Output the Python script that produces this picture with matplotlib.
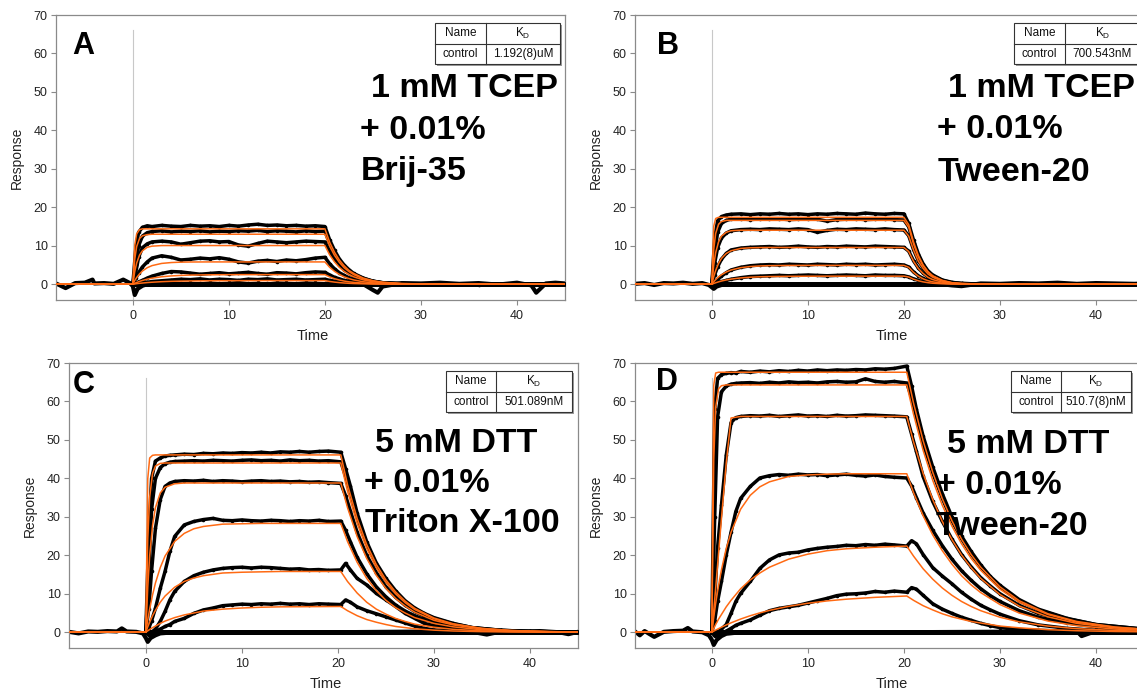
import matplotlib
matplotlib.use('Agg')
import matplotlib.pyplot as plt
from matplotlib.patches import Rectangle
from matplotlib.lines import Line2D

plt.rcParams['font.family'] = ['Liberation Sans', 'DejaVu Sans']
plt.rcParams['mathtext.fontset'] = 'custom'
plt.rcParams['mathtext.rm'] = 'Liberation Sans'
plt.rcParams['mathtext.it'] = 'Liberation Sans:italic'

# ---------------- time grids ----------------
fit_t_ab = [-8, 0, 0.2, 0.4, 0.7, 1, 1.5, 2, 3, 4, 5, 6, 8, 10, 14,
            20, 20.5, 21, 21.5, 22, 22.5, 23, 24, 25, 26, 28, 32, 45]
fit_t_cd = [-8, 0, 0.2, 0.4, 0.7, 1, 1.5, 2, 3, 4, 5, 6, 8, 10, 12, 14, 17,
            20.3, 21, 22, 23, 24, 25, 26, 27, 28, 30, 32, 35, 38, 42, 45]
data_t_ab = [0, 0.3, 0.6, 1, 1.5, 2, 3, 4, 5, 6, 7, 8, 9, 10, 11, 12, 13, 14, 15, 16, 17, 18, 19, 20,
             20.5, 21, 21.5, 22, 22.5, 23, 24, 25, 26, 28, 30, 33, 36, 40, 45]
data_t_cd = [0, 0.3, 0.6, 1, 1.5, 2, 2.5, 3, 4, 5, 6, 7, 8, 9, 10, 11, 12, 13, 14, 15, 16, 17, 18, 19, 20.3,
             20.8, 21.3, 22, 23, 24, 25, 26, 27, 28, 29, 30, 32, 34, 37, 40, 45]
blank_t = [0, 45]
blank_y = [0, 0]

# ---------------- panel A ----------------
a_fits = [
    [0, 0, 10.1, 13.1, 14.2, 14.4, 14.4, 14.4, 14.4, 14.4, 14.4, 14.4, 14.4, 14.4, 14.4,
     14.4, 10.9, 8.3, 6.3, 4.8, 3.6, 2.8, 1.6, 0.92, 0.53, 0.17, 0.01, 0],
    [0, 0, 6.5, 9.8, 11.9, 12.6, 12.9, 13.0, 13.0, 13.0, 13.0, 13.0, 13.0, 13.0, 13.0,
     13.0, 9.9, 7.5, 5.7, 4.3, 3.3, 2.5, 1.4, 0.83, 0.48, 0.16, 0.01, 0],
    [0, 0, 3.3, 5.5, 7.6, 8.7, 9.6, 9.9, 10.05, 10.06, 10.06, 10.06, 10.06, 10.06, 10.06,
     10.06, 7.6, 5.8, 4.4, 3.35, 2.55, 1.93, 1.12, 0.64, 0.37, 0.12, 0.01, 0],
    [0, 0, 0.96, 1.75, 2.7, 3.44, 4.3, 4.84, 5.41, 5.64, 5.74, 5.78, 5.8, 5.8, 5.8,
     5.8, 4.4, 3.35, 2.55, 1.93, 1.47, 1.11, 0.64, 0.37, 0.21, 0.07, 0.01, 0],
    [0, 0, 0.24, 0.45, 0.74, 0.98, 1.32, 1.58, 1.94, 2.16, 2.3, 2.38, 2.45, 2.49, 2.5,
     2.5, 1.9, 1.44, 1.1, 0.83, 0.63, 0.48, 0.28, 0.16, 0.09, 0.03, 0, 0],
    [0, 0, 0.07, 0.15, 0.24, 0.31, 0.43, 0.52, 0.66, 0.76, 0.82, 0.86, 0.91, 0.93, 0.95,
     0.95, 0.72, 0.55, 0.42, 0.32, 0.24, 0.18, 0.11, 0.06, 0.04, 0.01, 0, 0],
]
a_data = [
    [0, 9, 13.5, 14.8, 15.2, 15.0, 15.3, 15.1, 15.0, 15.3, 15.1, 15.2, 15.0, 15.3, 15.1, 15.4, 15.6, 15.3, 15.4, 15.2, 15.3, 15.1, 15.2, 15.0,
     11.5, 8.8, 6.6, 5.0, 3.8, 2.8, 1.6, 0.8, 0.4, 0.2, 0, 0.1, -0.1, 0.1, 0],
    [0, 5, 10, 12.5, 13.4, 13.7, 13.9, 13.6, 13.8, 13.7, 13.9, 13.6, 13.8, 13.7, 13.9, 13.8, 14.0, 13.7, 13.9, 13.8, 13.6, 13.9, 13.7, 13.8,
     10.5, 8.0, 6.1, 4.6, 3.5, 2.6, 1.5, 0.8, 0.4, 0.15, 0, 0, 0, 0, 0],
    [0, 3, 7, 9.5, 10.5, 11.0, 11.2, 11.0, 10.4, 10.8, 11.2, 11.3, 11.0, 11.1, 10.2, 9.9, 10.6, 11.2, 11.0, 10.8, 11.0, 11.2, 11.1, 11.0,
     8.6, 6.6, 5.0, 3.8, 2.9, 2.2, 1.2, 0.7, 0.35, 0.1, 0, 0, 0, 0, 0],
    [0, 1.5, 3, 4.5, 5.8, 6.8, 7.4, 7.0, 6.3, 6.5, 6.8, 6.6, 6.9, 6.5, 5.8, 5.5, 6.0, 6.2, 5.9, 6.3, 6.1, 6.4, 6.8, 7.0,
     5.3, 4.0, 3.0, 2.3, 1.7, 1.3, 0.7, 0.4, 0.2, 0, 0, 0, 0, 0, 0],
    [0, 0.2, 0.6, 1.0, 1.6, 2.1, 2.8, 3.3, 3.2, 2.9, 2.6, 2.8, 3.0, 2.7, 2.9, 3.1, 2.8, 2.6, 3.0, 2.9, 2.7, 3.0, 3.2, 3.1,
     2.4, 1.8, 1.4, 1.0, 0.8, 0.6, 0.3, 0.15, 0, 0, 0, 0, 0, 0, 0],
    [0, 0, 0.1, 0.3, 0.5, 0.7, 0.9, 1.1, 1.3, 1.2, 1.4, 1.1, 1.3, 1.2, 1.0, 1.3, 1.2, 1.4, 1.1, 1.2, 1.3, 1.1, 1.2, 1.3,
     1.0, 0.8, 0.6, 0.45, 0.35, 0.25, 0.1, 0, 0, 0, 0, 0, 0, 0, 0],
]
a_buf_t = [-8, -7, -6, -5, -4.2, -4, -3, -2, -1, -0.3, 0, 0.2, 0.5, 1, 1.5, 3, 10, 20, 24, 25, 25.5, 26,
           28, 30, 32, 34, 36, 38, 40, 41.5, 42, 43, 44, 45]
a_buf_y = [0.2, -1.0, 0.3, 0.4, 1.2, 0.2, 0.3, 0.1, 1.2, 0.3, -0.5, -2.8, -1.2, -0.4, 0, 0, 0, 0, 0, -1.5, -2.2, -0.6,
           0.3, 0.2, 0.4, 0.1, 0.3, -0.1, 0.4, -0.3, -2.2, 0.2, 0.4, 0.2]

# ---------------- panel B ----------------
b_fits = [
    [0, 0, 15.1, 17.1, 17.4, 17.4, 17.4, 17.4, 17.4, 17.4, 17.4, 17.4, 17.4, 17.4, 17.4,
     17.4, 15.5, 11.0, 7.5, 5.0, 3.3, 2.2, 1.0, 0.4, 0.19, 0.05, 0, 0],
    [0, 0, 9.1, 13.2, 15.6, 16.3, 16.6, 16.6, 16.6, 16.6, 16.6, 16.6, 16.6, 16.6, 16.6,
     16.6, 14.8, 10.5, 7.1, 4.8, 3.2, 2.1, 0.95, 0.38, 0.18, 0.05, 0, 0],
    [0, 0, 5.0, 8.2, 11.0, 12.5, 13.5, 13.9, 14.05, 14.05, 14.05, 14.05, 14.05, 14.05, 14.05,
     14.05, 12.5, 8.9, 6.0, 4.1, 2.7, 1.8, 0.8, 0.32, 0.15, 0.04, 0, 0],
    [0, 0, 2.0, 3.6, 5.4, 6.7, 8.0, 8.7, 9.3, 9.47, 9.53, 9.55, 9.55, 9.55, 9.55,
     9.55, 8.5, 6.0, 4.1, 2.8, 1.8, 1.2, 0.54, 0.22, 0.1, 0.03, 0, 0],
    [0, 0, 0.64, 1.2, 1.9, 2.46, 3.18, 3.69, 4.3, 4.6, 4.75, 4.83, 4.88, 4.9, 4.9,
     4.9, 4.4, 3.1, 2.1, 1.4, 0.93, 0.62, 0.28, 0.11, 0.05, 0.01, 0, 0],
    [0, 0, 0.2, 0.38, 0.62, 0.83, 1.11, 1.33, 1.63, 1.82, 1.93, 2.0, 2.06, 2.09, 2.1,
     2.1, 1.87, 1.32, 0.9, 0.61, 0.4, 0.26, 0.12, 0.05, 0.02, 0, 0, 0],
]
b_data = [
    [0, 12, 16.5, 17.6, 18.0, 18.2, 18.3, 18.1, 18.3, 18.2, 18.4, 18.2, 18.3, 18.1, 18.3, 18.2, 18.4, 18.3, 18.2, 18.5, 18.3, 18.2, 18.4, 18.3,
     15.8, 11.5, 7.9, 5.3, 3.5, 2.4, 1.1, 0.5, 0.2, 0.05, 0, 0, 0, 0, 0],
    [0, 8, 13.5, 15.8, 16.6, 16.9, 17.0, 16.8, 17.0, 16.9, 17.0, 16.8, 16.9, 17.0, 16.9, 16.4, 16.8, 16.9, 17.0, 16.8, 16.9, 17.0, 16.8, 16.7,
     14.9, 10.7, 7.3, 4.9, 3.3, 2.2, 1.0, 0.4, 0.2, 0.05, 0, 0, 0, 0, 0],
    [0, 5.5, 9.5, 12, 13.3, 13.9, 14.2, 14.3, 14.2, 14.4, 14.3, 14.2, 14.4, 14.2, 13.5, 14.0, 14.3, 14.2, 14.4, 14.3, 14.2, 14.4, 14.2, 14.1,
     12.6, 9.0, 6.1, 4.2, 2.8, 1.9, 0.85, 0.35, 0.15, 0.05, 0, 0, 0, 0, 0],
    [0, 2.5, 4.5, 6.5, 8.0, 8.9, 9.4, 9.6, 9.7, 9.8, 9.6, 9.7, 9.9, 9.7, 9.6, 9.8, 9.7, 9.9, 9.8, 9.7, 9.9, 9.8, 9.7, 9.6,
     8.6, 6.1, 4.2, 2.9, 1.9, 1.3, 0.6, 0.25, 0.1, 0, 0, 0, 0, 0, 0],
    [0, 0.6, 1.3, 2.1, 3.0, 3.7, 4.4, 4.8, 5.0, 5.1, 5.0, 5.2, 5.1, 5.0, 5.2, 5.1, 5.0, 5.2, 5.1, 5.2, 5.0, 5.1, 5.2, 5.0,
     4.5, 3.2, 2.2, 1.5, 1.0, 0.65, 0.3, 0.12, 0.05, 0, 0, 0, 0, 0, 0],
    [0, 0.2, 0.4, 0.7, 1.0, 1.3, 1.7, 2.0, 2.1, 2.2, 2.3, 2.2, 2.3, 2.4, 2.3, 2.2, 2.3, 2.4, 2.3, 2.2, 2.4, 2.3, 2.3, 2.2,
     1.9, 1.4, 1.0, 0.65, 0.45, 0.3, 0.13, 0.05, 0, 0, 0, 0, 0, 0, 0],
]
b_buf_t = [-8, -7, -6, -5, -4, -3, -2, -1, -0.3, 0, 0.2, 0.5, 1, 1.5, 3, 10, 20, 24, 25, 26,
           28, 30, 32, 34, 36, 38, 40, 42, 44, 45]
b_buf_y = [0.1, 0.3, -0.2, 0.3, 0.2, 0.4, 0.1, 0.3, -0.2, -0.8, -1.2, -0.6, -0.2, 0, 0, 0, 0, 0, -0.3, -0.5,
           0.2, 0.1, 0.3, 0.2, 0.4, 0.1, 0.3, 0.2, 0.1, 0.2]

# ---------------- panel C ----------------
c_fits = [
    [0, 0, 39.9, 45.3, 46.0, 46.1, 46.1, 46.1, 46.1, 46.1, 46.1, 46.1, 46.1, 46.1, 46.1, 46.1, 46.1,
     46.1, 38.4, 29.6, 22.8, 17.6, 13.6, 10.5, 8.1, 6.2, 3.7, 2.2, 1.0, 0.46, 0.16, 0.07],
    [0, 0, 24.2, 35.1, 41.3, 43.2, 43.9, 44.0, 44.0, 44.0, 44.0, 44.0, 44.0, 44.0, 44.0, 44.0, 44.0,
     44.0, 36.7, 28.3, 21.8, 16.8, 13.0, 10.0, 7.7, 5.9, 3.5, 2.1, 0.97, 0.44, 0.15, 0.07],
    [0, 0, 11.7, 19.9, 27.8, 32.4, 36.2, 37.7, 38.6, 38.8, 38.8, 38.8, 38.8, 38.8, 38.8, 38.8, 38.8,
     38.8, 32.4, 24.9, 19.2, 14.8, 11.4, 8.8, 6.8, 5.2, 3.1, 1.9, 0.85, 0.39, 0.14, 0.06],
    [0, 0, 3.2, 6.0, 9.7, 12.8, 16.8, 19.8, 23.6, 25.7, 26.9, 27.5, 28.1, 28.2, 28.3, 28.3, 28.3,
     28.3, 23.6, 18.2, 14.0, 10.8, 8.3, 6.4, 5.0, 3.8, 2.3, 1.4, 0.62, 0.28, 0.1, 0.05],
    [0, 0, 1.4, 2.6, 4.3, 5.7, 7.8, 9.4, 11.7, 13.2, 14.1, 14.7, 15.4, 15.6, 15.7, 15.8, 15.8,
     15.8, 13.2, 10.2, 7.8, 6.0, 4.7, 3.6, 2.8, 2.1, 1.3, 0.76, 0.35, 0.16, 0.06, 0.03],
    [0, 0, 0.36, 0.71, 1.2, 1.6, 2.3, 2.9, 3.8, 4.5, 5.0, 5.5, 6.0, 6.3, 6.5, 6.6, 6.65,
     6.7, 5.6, 4.3, 3.3, 2.6, 2.0, 1.5, 1.2, 0.9, 0.54, 0.32, 0.15, 0.07, 0.02, 0.01],
]
c_data = [
    [0, 25, 40, 44.5, 45.3, 45.8, 46.0, 46.1, 46.3, 46.2, 46.5, 46.4, 46.6, 46.5, 46.7, 46.6, 46.8, 46.6, 46.9, 46.8, 47.0, 46.8, 47.0, 47.1, 46.8,
     42.5, 38, 31, 23.5, 18, 14, 10.8, 8.2, 6.3, 4.9, 3.8, 2.3, 1.2, 0.5, 0.2, 0],
    [0, 15, 32, 40, 42.8, 43.8, 44.2, 44.4, 44.5, 44.6, 44.5, 44.7, 44.6, 44.5, 44.7, 44.8, 44.6, 44.7, 44.5, 44.8, 44.6, 44.7, 44.5, 44.6, 44.3,
     40.5, 36.5, 30, 23, 17.5, 13.5, 10.3, 7.9, 6.1, 4.7, 3.6, 2.2, 1.2, 0.5, 0.2, 0],
    [0, 6, 16, 27, 34.5, 37.9, 38.8, 39.2, 39.4, 39.3, 39.5, 39.2, 39.4, 39.3, 39.1, 39.3, 39.4, 39.2, 39.3, 39.1, 39.2, 39.0, 39.1, 38.9, 38.7,
     35.5, 31.5, 26, 20, 15.5, 11.8, 9.1, 7.0, 5.4, 4.2, 3.2, 1.9, 1.1, 0.45, 0.2, 0],
    [0, 1, 3, 6.2, 11.4, 15.8, 21, 24.9, 27.9, 28.8, 29.3, 29.6, 29.1, 29.0, 29.2, 29.0, 28.9, 29.1, 29.0, 28.8, 29.0, 28.9, 29.1, 28.8, 28.9,
     26.5, 23.5, 19.5, 15.2, 11.8, 9.2, 7.1, 5.5, 4.3, 3.3, 2.6, 1.5, 0.9, 0.4, 0.15, 0],
    [0, -0.5, 0, 0.8, 2.8, 5.4, 8.4, 10.6, 13.2, 14.7, 15.6, 16.2, 16.6, 16.8, 16.9, 16.7, 16.9, 16.8, 16.6, 16.4, 16.5, 16.2, 16.3, 16.1, 16.2,
     17.9, 16.2, 14.0, 12.3, 10.1, 8.4, 6.7, 4.9, 3.6, 2.3, 1.7, 1.0, 0.5, 0.2, 0.1, 0],
    [0, -0.8, -0.4, 0.2, 0.8, 1.5, 2.0, 2.8, 3.6, 4.9, 5.8, 6.3, 6.9, 7.1, 7.3, 7.2, 7.4, 7.3, 7.5, 7.3, 7.4, 7.2, 7.4, 7.3, 7.2,
     8.4, 7.8, 6.6, 5.6, 4.8, 4.0, 3.2, 2.4, 1.6, 1.0, 0.6, 0.3, 0.1, 0, 0, 0],
]
c_buf_t = [-8, -7, -6, -5, -4, -3, -2.5, -2, -1, -0.3, 0, 0.2, 0.5, 1, 1.5, 3, 10, 20,
           30, 32, 34, 35.5, 37, 39, 41, 43, 44, 45]
c_buf_y = [0.1, -0.3, 0.2, 0.1, 0.3, 0.2, 1.0, 0.2, 0.1, -0.3, -1.5, -2.5, -1.5, -0.8, -0.3, 0, 0, 0,
           0.2, 0.3, 0.1, -0.6, 0.2, 0.1, 0.3, 0.0, -0.5, 0.1]

# ---------------- panel D ----------------
d_fits = [
    [0, 0, 64.2, 67.4, 67.6, 67.6, 67.6, 67.6, 67.6, 67.6, 67.6, 67.6, 67.6, 67.6, 67.6, 67.6, 67.6,
     67.6, 59.6, 49.8, 41.6, 34.7, 29.0, 24.2, 20.2, 16.9, 11.8, 8.2, 4.8, 2.8, 1.35, 0.81],
    [0, 0, 44.9, 58.5, 63.3, 64.1, 64.3, 64.3, 64.3, 64.3, 64.3, 64.3, 64.3, 64.3, 64.3, 64.3, 64.3,
     64.3, 56.7, 47.3, 39.5, 33.0, 27.6, 23.0, 19.2, 16.1, 11.2, 7.8, 4.6, 2.6, 1.29, 0.77],
    [0, 0, 5.6, 11.5, 20.5, 29.5, 44.0, 55.7, 56.1, 56.1, 56.1, 56.1, 56.1, 56.1, 56.1, 56.1, 56.1,
     56.1, 49.5, 41.3, 34.5, 28.8, 24.1, 20.1, 16.8, 14.0, 9.8, 6.8, 4.0, 2.3, 1.12, 0.67],
    [0, 0, 3.9, 7.5, 12.2, 16.2, 21.8, 26.0, 32.0, 35.6, 37.8, 39.1, 40.5, 40.9, 41.1, 41.2, 41.2,
     41.2, 36.3, 30.3, 25.3, 21.2, 17.7, 14.7, 12.3, 10.3, 7.2, 5.0, 2.9, 1.7, 0.82, 0.49],
    [0, 0, 1.0, 2.0, 3.4, 4.6, 6.6, 8.3, 11.3, 13.6, 15.4, 16.9, 19.0, 20.3, 21.2, 21.7, 22.1,
     22.4, 19.8, 16.5, 13.8, 11.5, 9.6, 8.0, 6.7, 5.6, 3.9, 2.7, 1.6, 0.92, 0.45, 0.27],
    [0, 0, 0.28, 0.55, 0.93, 1.31, 1.89, 2.44, 3.43, 4.29, 5.03, 5.68, 6.74, 7.53, 8.14, 8.59, 9.07,
     9.42, 8.3, 6.9, 5.8, 4.8, 4.0, 3.4, 2.8, 2.4, 1.6, 1.15, 0.67, 0.39, 0.19, 0.11],
]
d_data = [
    [0, 58, 66.0, 67.0, 67.3, 67.5, 67.4, 67.8, 67.6, 67.9, 67.7, 68.0, 67.8, 68.1, 67.9, 68.2, 68.0, 68.2, 68.1, 68.3, 68.2, 68.5, 68.4, 68.6, 69.2,
     64, 58, 51, 43, 36, 30, 25, 21, 17.5, 14.5, 12.2, 8.5, 6.0, 3.6, 2.0, 0.8],
    [0, 30, 56, 62.5, 64.0, 64.5, 64.7, 64.8, 64.9, 64.7, 65.0, 64.8, 65.1, 64.9, 65.0, 64.8, 65.1, 65.2, 65.0, 65.1, 65.9, 65.2, 65.0, 65.2, 64.8,
     61, 56, 49, 41.5, 34.8, 29, 24.3, 20.3, 17.0, 14.2, 11.8, 8.2, 5.8, 3.5, 2.0, 0.8],
    [0, 9, 22, 33, 46, 54.5, 55.8, 56.1, 56.3, 56.2, 56.4, 56.1, 56.3, 56.5, 56.2, 56.3, 56.1, 56.4, 56.2, 56.3, 56.5, 56.4, 56.3, 56.2, 56.0,
     51.5, 47, 40.5, 34, 28.8, 24.2, 20.2, 17.0, 14.2, 12.0, 10.0, 7.0, 4.9, 3.0, 1.8, 0.7],
    [0, 3, 8, 13.2, 20.1, 26, 31.4, 34.8, 37.9, 40.1, 40.7, 41.0, 40.8, 41.1, 40.9, 41.0, 40.7, 40.9, 41.1, 40.8, 40.6, 40.9, 40.5, 40.3, 40.1,
     38, 35, 31, 26.5, 22.5, 19.0, 16.0, 13.5, 11.3, 9.5, 8.0, 5.6, 3.9, 2.4, 1.4, 0.6],
    [0, -0.5, 0, 0.8, 2.0, 4.9, 8.0, 10.1, 13.2, 16.6, 18.8, 20.1, 20.6, 20.8, 21.4, 21.8, 22.1, 22.3, 22.6, 22.5, 22.8, 22.6, 22.9, 22.7, 22.4,
     23.8, 23.0, 20.2, 16.8, 14.6, 12.6, 10.4, 8.6, 7.0, 5.8, 4.7, 3.0, 1.9, 1.0, 0.5, 0.2],
    [0, -1.0, -0.8, -0.3, 0.3, 1.0, 1.8, 2.3, 3.2, 4.4, 5.6, 6.2, 6.6, 7.0, 7.6, 8.2, 8.8, 9.5, 9.9, 10.0, 10.2, 10.6, 10.4, 10.7, 10.4,
     11.6, 11.2, 9.6, 7.4, 6.0, 4.9, 3.9, 3.1, 2.3, 1.7, 1.2, 0.7, 0.5, 0.3, 0.1, 0],
]
d_buf_t = [-8, -7.5, -7, -6, -5, -4, -3, -2.5, -2, -1, -0.3, 0, 0.2, 0.5, 1, 1.5, 3, 10, 20,
           36, 38, 38.5, 40, 42, 44, 45]
d_buf_y = [0.2, -0.8, 0.3, -1.2, 0.1, 0.3, 0.4, 1.1, 0.2, 0.0, -0.8, -2.0, -3.3, -2.0, -1.0, -0.4, 0, 0, 0,
           0.2, 0.3, -1.0, 0.3, 0.5, 0.6, 0.4]

# ---------------- labels ----------------
letters = ['A', 'B', 'C', 'D']
conditions = [
    ['1 mM TCEP', '+ 0.01%', 'Brij-35'],
    ['1 mM TCEP', '+ 0.01%', 'Tween-20'],
    ['5 mM DTT', '+ 0.01%', 'Triton X-100'],
    ['5 mM DTT', '+ 0.01%', 'Tween-20'],
]
kd_values = ['1.192(8)uM', '700.543nM', '501.089nM', '510.7(8)nM']
x_ticks = [0, 10, 20, 30, 40]
y_ticks = [0, 10, 20, 30, 40, 50, 60, 70]

# ---------------- layout (pixels) ----------------
W, H = 1137, 692
fig = plt.figure(figsize=(W / 100, H / 100), dpi=100)
fig.patch.set_facecolor('white')

boxes = [(56, 15, 565, 300), (635, 15, 1144, 300), (69, 363, 578, 648), (635, 363, 1144, 648)]
letter_pos = [(0.032, 0.862), (0.043, 0.862), (0.008, 0.896), (0.041, 0.905)]
text_pos = [
    [(0.618, 0.711), (0.598, 0.565), (0.598, 0.421)],
    [(0.614, 0.711), (0.594, 0.567), (0.594, 0.418)],
    [(0.601, 0.689), (0.580, 0.548), (0.581, 0.407)],
    [(0.612, 0.683), (0.591, 0.539), (0.591, 0.396)],
]
tables = [(435, 486, 560, 23, 64), (1014, 1065, 1140, 23, 64),
          (446, 496, 572, 371, 412), (1011, 1061, 1131, 371, 412)]

panels = [
    (fit_t_ab, a_fits, data_t_ab, a_data, a_buf_t, a_buf_y),
    (fit_t_ab, b_fits, data_t_ab, b_data, b_buf_t, b_buf_y),
    (fit_t_cd, c_fits, data_t_cd, c_data, c_buf_t, c_buf_y),
    (fit_t_cd, d_fits, data_t_cd, d_data, d_buf_t, d_buf_y),
]

ORANGE = '#ff6a13'
SPINE = '#8a8a8a'

for i, (ft, fits, dt, data, bt, by) in enumerate(panels):
    x0, y0, x1, y1 = boxes[i]
    ax = fig.add_axes([x0 / W, 1 - y1 / H, (x1 - x0) / W, (y1 - y0) / H])
    ax.set_xlim(-8, 45)
    ax.set_ylim(-4.1, 70)
    ax.axvline(0, ymin=0, ymax=(66 + 4.1) / 74.1, color='#c8c8c8', lw=0.8, zorder=1)
    ax.plot(bt, by, color='black', lw=3.0, solid_joinstyle='round', zorder=2)
    for y in data:
        ax.plot(dt, y, color='black', lw=2.5, solid_joinstyle='round', solid_capstyle='round',
                marker='o', markersize=2.6, markeredgewidth=0, zorder=3)
    ax.plot(blank_t, blank_y, color='black', lw=3.6, zorder=3)
    for y in fits:
        ax.plot(ft, y, color=ORANGE, lw=1.1, zorder=4)

    ax.set_xticks(x_ticks)
    ax.set_yticks(y_ticks)
    for s in ax.spines.values():
        s.set_color(SPINE)
        s.set_linewidth(0.9)
    ax.tick_params(direction='out', length=3.5, width=0.8, color=SPINE,
                   labelsize=9, labelcolor='#222222')
    ax.tick_params(axis='y', pad=2.5)
    ax.tick_params(axis='x', pad=4)
    ax.set_xlabel('Time', fontsize=10.5, color='#222222')
    ax.set_ylabel('Response', fontsize=10, color='#222222')
    ax.xaxis.set_label_coords(0.504, -0.102)
    ax.yaxis.set_label_coords(-0.064, 0.5)

    lx, ly = letter_pos[i]
    ax.text(lx, ly, letters[i], transform=ax.transAxes, fontsize=22, fontweight='bold',
            ha='left', va='baseline', zorder=6)
    for (tx, ty), s in zip(text_pos[i], conditions[i]):
        ax.text(tx, ty, s, transform=ax.transAxes, fontsize=24.5, fontweight='bold',
                ha='left', va='baseline', zorder=6)

    # KD table
    tx0, txm, tx1, ty0, ty1 = tables[i]
    tym = (ty0 + ty1) / 2
    fig.add_artist(Rectangle((tx0 / W + 2 / W, 1 - (ty1 + 2) / H), (tx1 - tx0) / W, (ty1 - ty0) / H,
                             transform=fig.transFigure, facecolor='#9a9a9a', edgecolor='none', zorder=5))
    fig.add_artist(Rectangle((tx0 / W, 1 - ty1 / H), (tx1 - tx0) / W, (ty1 - ty0) / H,
                             transform=fig.transFigure, facecolor='white', edgecolor='#333333',
                             lw=0.8, zorder=6))
    fig.add_artist(Line2D([txm / W, txm / W], [1 - ty0 / H, 1 - ty1 / H], transform=fig.transFigure,
                          color='#333333', lw=0.8, zorder=7))
    fig.add_artist(Line2D([tx0 / W, tx1 / W], [1 - tym / H, 1 - tym / H], transform=fig.transFigure,
                          color='#333333', lw=0.8, zorder=7))
    c1 = (tx0 + txm) / 2 / W
    c2 = (txm + tx1) / 2 / W
    r1 = 1 - (ty0 + tym) / 2 / H
    r2 = 1 - (tym + ty1) / 2 / H
    fig.text(c1, r1, 'Name', ha='center', va='center', fontsize=8.5, color='#111111', zorder=8)
    fig.text(c2, r1, r'$\mathregular{K_D}$', ha='center', va='center', fontsize=8.5, color='#111111', zorder=8)
    fig.text(c1, r2, 'control', ha='center', va='center', fontsize=8.5, color='#111111', zorder=8)
    fig.text(c2, r2, kd_values[i], ha='center', va='center', fontsize=8.5, color='#111111', zorder=8)

fig.savefig('out.png', dpi=100, facecolor='white')
